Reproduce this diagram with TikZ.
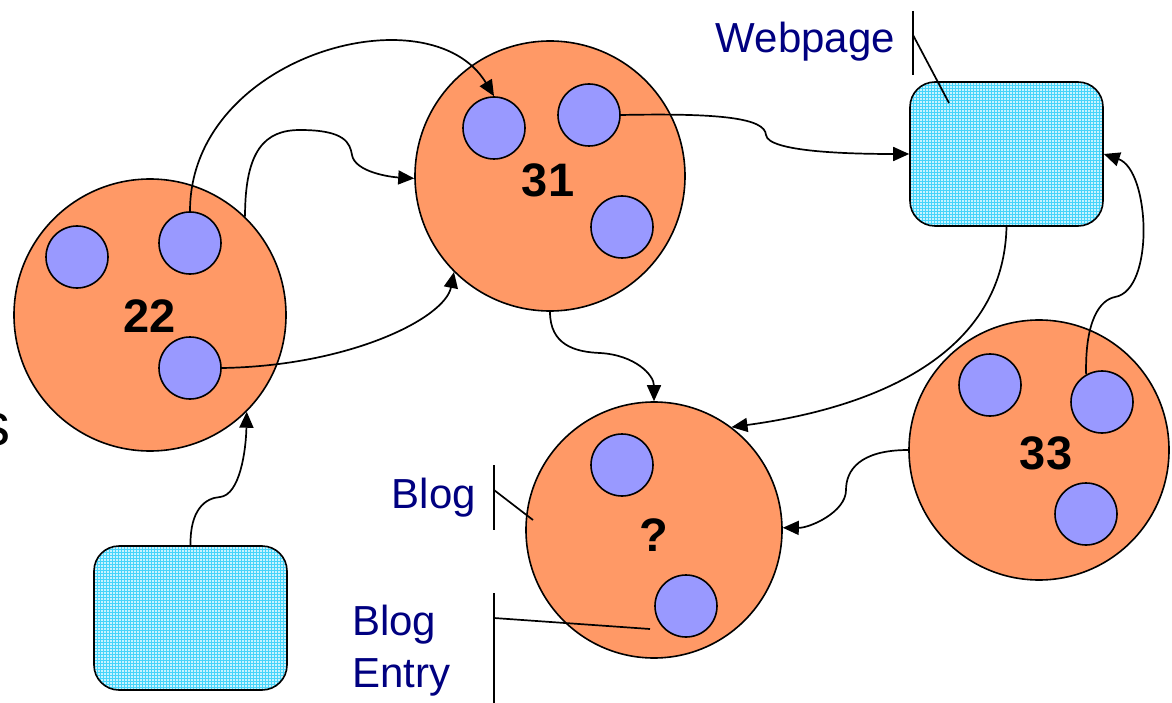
\documentclass[tikz,border=0pt]{standalone}
\usepackage{fontspec}
\setmainfont{Liberation Sans}
\usetikzlibrary{arrows.meta}
\definecolor{blob}{RGB}{255,153,102}
\definecolor{dot}{RGB}{153,153,255}
\definecolor{navylabel}{RGB}{0,0,128}
\definecolor{pagefill}{RGB}{200,243,255}
\definecolor{pagegrid}{RGB}{70,212,250}
\tikzset{
  bigcircle/.style={circle, draw, line width=1.6pt, fill=blob, minimum size=#1, inner sep=0pt},
  smallcircle/.style={circle, draw, line width=1.6pt, fill=dot, minimum size=62pt, inner sep=0pt},
  pagebox/.style={rectangle, draw, line width=1.6pt, rounded corners=25pt,
    minimum width=193pt, minimum height=144pt, fill=pagefill,
    path picture={\draw[pagegrid, line width=0.7pt]
      ([xshift=-2pt,yshift=-2pt]path picture bounding box.south west) grid[step=3pt]
      ([xshift=2pt,yshift=2pt]path picture bounding box.north east);}},
  numlabel/.style={font=\fontsize{47}{50}\selectfont\bfseries, inner sep=0pt},
  tag/.style={font=\fontsize{42}{52}\selectfont, text=navylabel, inner sep=0pt},
  conn/.style={line width=1.7pt, -{Triangle[length=16pt,width=14pt]}},
  pointer/.style={line width=1.7pt},
}
\begin{document}
\begin{tikzpicture}[x=1pt, y=-1pt]
  \useasboundingbox (0,0) rectangle (1172,703);

  % clusters
  \node[bigcircle=272pt] (c22) at (150,315) {};
  \node[bigcircle=270pt] (c31) at (550,176) {};
  \node[bigcircle=256pt] (cq)  at (654,530) {};
  \node[bigcircle=260pt] (c33) at (1039,450) {};

  % members
  \node[smallcircle] (s22a) at (77,257) {};
  \node[smallcircle] (s22t) at (190,243) {};
  \node[smallcircle] (s22b) at (190,368) {};
  \node[smallcircle] (s31a) at (494,128) {};
  \node[smallcircle] (s31b) at (589,115) {};
  \node[smallcircle] (s31c) at (622,227) {};
  \node[smallcircle] (sqa)  at (622,465) {};
  \node[smallcircle] (sqb)  at (686,606) {};
  \node[smallcircle] (s33a) at (990,385) {};
  \node[smallcircle] (s33b) at (1102,402) {};
  \node[smallcircle] (s33c) at (1086,514) {};

  % cluster numbers
  \node[numlabel] (n22) at (150,316) {22};
  \node[numlabel] (n31) at (548,180) {31};
  \node[numlabel] (nq)  at (654,535) {?};
  \node[numlabel] (n33) at (1046,453) {33};

  % pages
  \node[pagebox] (web)  at (1006.5,154) {};
  \node[pagebox] (page) at (190.5,618) {};

  % partly visible letter at the left edge
  \node[font=\fontsize{60}{60}\selectfont, anchor=base east, inner sep=0pt] (edge) at (11,445) {s};

  % links
  \draw[conn] (s22t.north) .. controls (190,55) and (430,-10) .. (s31a.north);
  \draw[conn] (c22.46) .. controls (245,150) and (265,130) .. (300,130)
              .. controls (345,130) and (350,143) .. (352,155)
              .. controls (355,172) and (390,177) .. (c31.181);
  \draw[conn] (s22b.east) .. controls (350,366) and (445,318) .. (c31.225);
  \draw[conn] (s31b.east) .. controls (720,113) and (765,118) .. (766,135)
              .. controls (768,152) and (850,154) .. (web.west);
  \draw[conn] (c31.south) .. controls (550,345) and (575,352) .. (600,353)
              .. controls (635,355) and (654,375) .. (cq.north);
  \draw[conn] (web.south) .. controls (1003,380) and (820,415) .. (cq.53);
  \draw[conn] (c33.west) .. controls (860,450) and (846,470) .. (846,490)
              .. controls (846,512) and (810,528) .. (cq.1);
  \draw[conn] (s33b.120) .. controls (1085,320) and (1100,300) .. (1115,297)
              .. controls (1155,290) and (1150,170) .. (web.east);
  \draw[conn] (page.north) .. controls (190,510) and (205,498) .. (220,497)
              .. controls (240,495) and (246,450) .. (c22.-45);

  % callouts
  \node[tag, anchor=base east] (lweb) at (895,53) {Webpage};
  \coordinate (bwebtop) at (913,11);
  \coordinate (bwebbot) at (913,75);
  \coordinate (bwebpin) at (913,35);
  \coordinate (webtip)  at (949,103);
  \draw[pointer] (bwebtop) -- (bwebbot);
  \draw[pointer] (bwebpin) -- (webtip);

  \node[tag, anchor=base east] (lblog) at (476,508) {Blog};
  \coordinate (bblogtop) at (494,465);
  \coordinate (bblogbot) at (494,530);
  \coordinate (bblogpin) at (494,490);
  \coordinate (blogtip)  at (533,520);
  \draw[pointer] (bblogtop) -- (bblogbot);
  \draw[pointer] (bblogpin) -- (blogtip);

  \node[tag, anchor=base west] (lentry1) at (352,635) {Blog};
  \node[tag, anchor=base west] (lentry2) at (352,687) {Entry};
  \coordinate (bentrytop) at (494,593);
  \coordinate (bentrybot) at (494,706);
  \coordinate (bentrypin) at (494,618);
  \coordinate (entrytip)  at (650,629);
  \draw[pointer] (bentrytop) -- (bentrybot);
  \draw[pointer] (bentrypin) -- (entrytip);
\end{tikzpicture}
\end{document}
